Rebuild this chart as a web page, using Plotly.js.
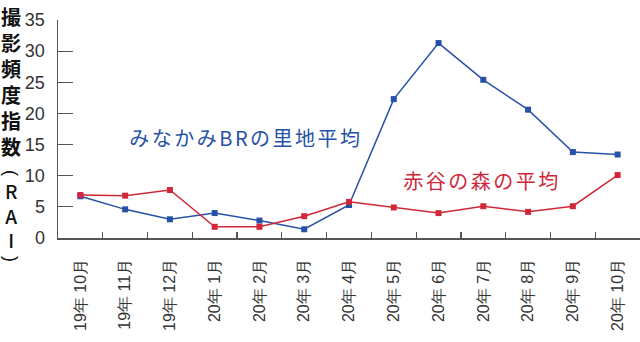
<!DOCTYPE html>
<html><head><meta charset="utf-8">
<script src="https://cdn.plot.ly/plotly-3.0.1.min.js"></script>
<style>html,body{margin:0;padding:0;background:#fff}</style>
</head><body>
<div id="chart" style="width:640px;height:342px"></div>
<script>
const months = ["19年 10月","19年 11月","19年 12月","20年 1月","20年 2月","20年 3月","20年 4月","20年 5月","20年 6月","20年 7月","20年 8月","20年 9月","20年 10月"];
const minakamiBR = [6.7, 4.6, 3.0, 4.0, 2.8, 1.4, 5.3, 22.3, 31.3, 25.4, 20.6, 13.8, 13.4];
const akayaForest = [6.9, 6.8, 7.7, 1.8, 1.8, 3.5, 5.8, 4.9, 4.0, 5.1, 4.2, 5.1, 10.1];
const seriesLabels = ["みなかみBRの里地平均", "赤谷の森の平均"];
const yTitleKanji = ["撮","影","頻","度","指","数"];
const yTitleLatin = ["R","A","I"];

const blue = "#2651a6";
const red = "#d0283a";

const traces = [
  {x: months, y: minakamiBR, type: "scatter", mode: "lines+markers", name: seriesLabels[0],
   line: {color: blue, width: 1.5}, marker: {symbol: "square", size: 6, color: blue}},
  {x: months, y: akayaForest, type: "scatter", mode: "lines+markers", name: seriesLabels[1],
   line: {color: red, width: 1.5}, marker: {symbol: "square", size: 6, color: red}}
];

// pixel helpers for the vertical title (plot area top=20, height=218)
const py = p => (238 - p) / 218;
const tx = (11 - 58) / 582;

const annotations = [
  {x: 3.69, y: 16.2, xref: "x", yref: "y", text: seriesLabels[0], showarrow: false,
   font: {family: "Noto Sans CJK JP", size: 20, color: blue}},
  {x: 8.96, y: 9.3, xref: "x", yref: "y", text: seriesLabels[1], showarrow: false,
   font: {family: "Noto Sans CJK JP", size: 20, color: red}},
  {x: tx, y: py(81), xref: "paper", yref: "paper", xanchor: "center", yanchor: "middle",
   text: yTitleKanji.join("<br>"), showarrow: false,
   font: {family: "Noto Sans CJK JP", size: 20, color: "#111", weight: "bold"}},
  {x: tx, y: py(173), xref: "paper", yref: "paper", xanchor: "center", yanchor: "middle",
   text: "(", textangle: 90, showarrow: false,
   font: {family: "Liberation Sans", size: 18, color: "#111"}},
  {x: tx, y: py(215), xref: "paper", yref: "paper", xanchor: "center", yanchor: "middle",
   text: yTitleLatin.join("<br>"), showarrow: false,
   font: {family: "Noto Sans CJK JP", size: 19, color: "#111", weight: 500}},
  {x: tx, y: py(259), xref: "paper", yref: "paper", xanchor: "center", yanchor: "middle",
   text: ")", textangle: 90, showarrow: false,
   font: {family: "Liberation Sans", size: 18, color: "#111"}}
];

const layout = {
  width: 640, height: 342,
  margin: {l: 58, r: 0, t: 20, b: 104},
  showlegend: false,
  paper_bgcolor: "#fff", plot_bgcolor: "#fff",
  xaxis: {
    type: "category", range: [-0.5, 12.5], showgrid: false, zeroline: false,
    showline: true, linecolor: "#555", linewidth: 1.5,
    ticks: "inside", ticklen: 6, tickcolor: "#555", tickwidth: 1.2, tickson: "boundaries",
    tickangle: -90, ticklabelstandoff: 13,
    tickfont: {family: "Liberation Sans", size: 16, color: "#333"}
  },
  yaxis: {
    range: [0, 35], dtick: 5, showgrid: false, zeroline: false,
    showline: true, linecolor: "#555", linewidth: 1.5,
    ticks: "inside", ticklen: 15, tickcolor: "#555", tickwidth: 1.2,
    ticklabelstandoff: 8,
    tickfont: {family: "Liberation Sans", size: 18, color: "#333"}
  },
  annotations: annotations
};

Plotly.newPlot("chart", traces, layout, {staticPlot: true}).then(() => {
  document.querySelectorAll(".annotation-text").forEach(t => {
    const txt = t.textContent;
    if (txt === seriesLabels[0] || txt === seriesLabels[1]) t.style.letterSpacing = "2.5px";
  });
});
</script>
</body></html>
